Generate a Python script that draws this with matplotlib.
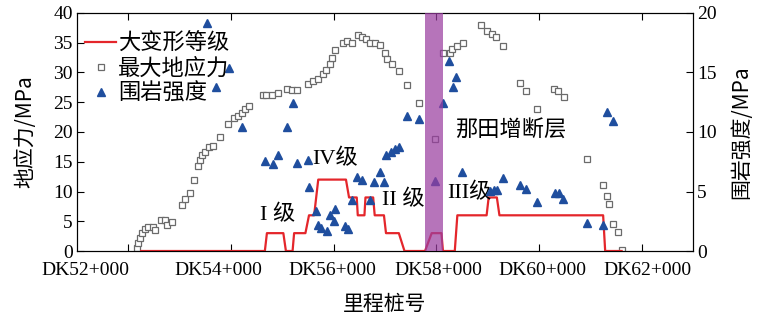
import matplotlib
matplotlib.use('Agg')
import matplotlib.pyplot as plt
from matplotlib.lines import Line2D

plt.rcParams['font.family'] = ['Liberation Serif', 'Noto Sans CJK SC']

# chainage in km
stress_x = [52.16, 52.19, 52.23, 52.26, 52.32, 52.39, 52.49, 52.52, 52.64, 52.71,
            52.75, 52.86, 53.05, 53.10, 53.20, 53.27, 53.36, 53.40, 53.43, 53.49,
            53.57, 53.64, 53.79, 53.95, 54.05, 54.13, 54.21, 54.27, 54.36, 54.63,
            54.69, 54.79, 54.92, 55.09, 55.18, 55.28, 55.51, 55.60, 55.70, 55.80,
            55.86, 55.93, 55.96, 56.03, 56.19, 56.26, 56.35, 56.48, 56.55, 56.63,
            56.71, 56.81, 56.90, 57.00, 57.03, 57.13, 57.27, 57.43, 57.67, 57.97,
            58.14, 58.27, 58.30, 58.40, 58.52, 58.88, 58.98, 59.08, 59.16, 59.29,
            59.63, 59.75, 59.97, 60.30, 60.38, 60.49, 60.94, 61.25, 61.32, 61.37,
            61.44, 61.53, 61.61]
stress_y = [0.5, 1.4, 2.2, 3.0, 3.7, 4.0, 4.1, 3.6, 5.2, 5.2,
            4.4, 4.9, 7.8, 8.7, 9.7, 11.9, 14.3, 15.3, 16.2, 16.7,
            17.4, 17.6, 19.2, 21.3, 22.3, 22.7, 23.2, 23.8, 24.3, 26.2,
            26.2, 26.2, 26.6, 27.3, 27.1, 27.1, 28.1, 28.6, 28.9, 29.7,
            30.4, 31.4, 32.4, 33.8, 35.0, 35.3, 35.0, 36.3, 35.9, 35.7,
            35.0, 35.0, 34.7, 33.3, 32.2, 31.4, 30.3, 27.9, 24.8, 18.8,
            33.3, 33.3, 34.0, 34.5, 34.9, 37.9, 37.0, 36.4, 36.0, 34.5,
            28.2, 26.9, 23.9, 27.2, 26.9, 25.8, 15.5, 11.1, 9.2, 7.9,
            4.6, 3.2, 0.2]

strength_x = [53.53, 53.97, 53.71, 54.21, 55.20, 55.10, 54.66, 54.81, 54.92, 55.28,
              55.51, 55.52, 55.66, 55.70, 55.76, 55.88, 55.93, 56.03, 56.00, 56.22,
              56.28, 56.35, 56.46, 56.55, 56.70, 56.79, 56.90, 56.99, 57.02, 57.11,
              57.20, 57.27, 57.43, 57.66, 57.97, 58.14, 58.25, 58.38, 58.32, 58.51,
              59.05, 59.12, 59.19, 59.29, 59.63, 59.75, 59.97, 60.31, 60.40, 60.47,
              61.32, 61.44, 60.94, 61.25]
strength_y = [19.15, 15.4, 13.8, 10.4, 12.4, 10.45, 7.55, 7.35, 8.05, 7.4,
              7.65, 5.4, 3.35, 2.2, 1.9, 1.65, 3.0, 3.55, 2.5, 2.1,
              1.85, 4.25, 6.25, 6.0, 4.25, 5.8, 6.6, 5.8, 8.1, 8.3,
              8.55, 8.7, 11.35, 11.1, 5.85, 12.4, 15.95, 14.65, 13.8, 6.6,
              5.05, 5.1, 5.1, 6.15, 5.55, 5.25, 4.1, 4.9, 4.85, 4.35,
              11.7, 10.9, 2.35, 2.2]

grade_x = [52.25, 54.66, 54.70, 55.02, 55.07, 55.20, 55.23, 55.45, 55.52, 55.62,
           55.70, 56.24, 56.30, 56.45, 56.47, 56.60, 56.62, 56.77, 56.80, 56.98,
           57.02, 57.27, 57.38, 57.78, 57.91, 58.10, 58.13, 58.36, 58.41, 58.98,
           59.02, 59.18, 59.23, 61.25, 61.29, 61.61]
grade_y = [0, 0, 3, 3, 0, 0, 3, 3, 6, 6,
           12, 12, 9, 9, 6, 6, 9, 9, 6, 6,
           3, 3, 0, 0, 3, 3, 0, 0, 6, 6,
           9, 9, 6, 6, 0, 0]

fault_start, fault_end = 57.78, 58.13
fault_name = '那田增断层'

grade_labels = ['I 级', 'IV级', 'II 级', 'III级']
grade_label_pos = [(54.57, 6.1), (55.58, 15.4), (56.94, 8.65), (58.21, 9.8)]

tick_vals = [52, 54, 56, 58, 60, 62]
tick_names = ['DK52+000', 'DK54+000', 'DK56+000', 'DK58+000', 'DK60+000', 'DK62+000']
tick_name_pos = [51.16, 53.75, 55.97, 58.03, 60.06, 62.12]

fig = plt.figure(figsize=(7.63, 3.24), dpi=100)
ax = fig.add_axes([0.1009, 0.2253, 0.8073, 0.7346])
ax2 = ax.twinx()

ax.plot(grade_x, grade_y, color='#e4262b', lw=1.6, zorder=3)
ax.plot(stress_x, stress_y, ls='none', marker='s', ms=5, mfc='white',
        mec='#6b6b6b', mew=0.9, zorder=2)
ax2.plot(strength_x, strength_y, ls='none', marker='^', ms=6,
         color='#1f4e9e', zorder=2)
ax2.axvspan(fault_start, fault_end, color='#9a3ea0', alpha=0.72, lw=0, zorder=5)

ax.set_xlim(51, 63)
ax.set_ylim(0, 40)
ax2.set_ylim(0, 20)
ax.set_yticks(range(0, 41, 5))
ax2.set_yticks(range(0, 21, 5))

# tick marks at the chainages, names placed where the reference has them
ax.set_xticks(tick_vals)
ax.set_xticklabels([])
ax.set_xticks(tick_name_pos, minor=True)
ax.set_xticklabels(tick_names, minor=True)
ax.tick_params(axis='x', which='minor', length=0, pad=8, labelsize=14)
ax.tick_params(axis='x', which='major', direction='in', length=5, top=True)
ax.tick_params(axis='y', direction='in', length=5, labelsize=14, pad=3)
ax2.tick_params(axis='y', direction='in', length=5, labelsize=14, pad=3)

cjk = ['Noto Sans CJK SC', 'DejaVu Sans']
ax.set_xlabel('里程桩号', family=cjk, fontsize=15, labelpad=10)
ax.set_ylabel('地应力/MPa', family=['Noto Sans CJK SC'], fontsize=15, labelpad=12)
ax2.set_ylabel('围岩强度/MPa', family=['Noto Sans CJK SC'], fontsize=15, labelpad=10)

for lab, (lx, ly) in zip(grade_labels, grade_label_pos):
    ax.text(lx, ly, lab, fontsize=16, ha='left', va='center',
            family=['Liberation Serif', 'Noto Sans CJK SC'], zorder=6)
ax.text(58.36, 20.4, fault_name, fontsize=16, ha='left', va='center',
        family=cjk, zorder=6)

handles = [
    Line2D([], [], color='#e4262b', lw=1.6),
    Line2D([], [], ls='none', marker='s', ms=5, mfc='white', mec='#6b6b6b', mew=0.9),
    Line2D([], [], ls='none', marker='^', ms=6, color='#1f4e9e'),
]
ax2.legend(handles, ['大变形等级', '最大地应力', '围岩强度'], loc='upper left',
           bbox_to_anchor=(0.013, 0.92), frameon=False, prop={'family': cjk, 'size': 16},
           handlelength=1.4, handletextpad=0.1, labelspacing=0.08, borderpad=0,
           borderaxespad=0)

fig.savefig('out.png', dpi=100)
